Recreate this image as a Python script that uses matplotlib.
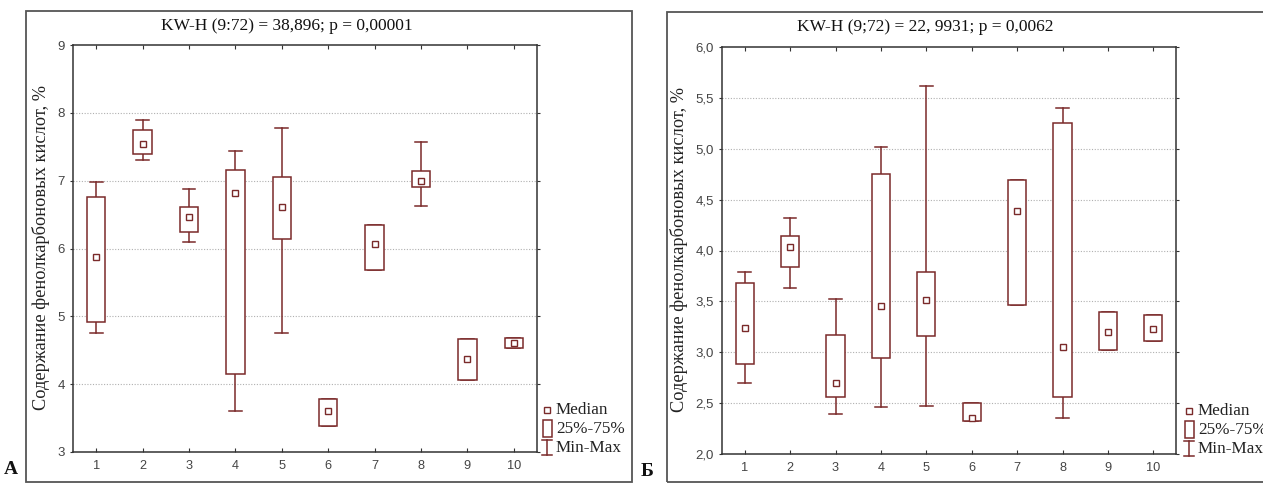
import matplotlib
matplotlib.use("Agg")
import matplotlib.pyplot as plt
from matplotlib.patches import Rectangle
from matplotlib.lines import Line2D

# ---------------- data ----------------
groups = [1, 2, 3, 4, 5, 6, 7, 8, 9, 10]

a_min    = [4.75, 7.31, 6.09, 3.61, 4.76, 3.39, 5.68, 6.62, 4.06, 4.53]
a_q1     = [4.92, 7.40, 6.25, 4.15, 6.14, 3.39, 5.68, 6.91, 4.06, 4.53]
a_median = [5.87, 7.54, 6.47, 6.82, 6.61, 3.60, 6.07, 7.00, 4.37, 4.61]
a_q3     = [6.76, 7.75, 6.61, 7.15, 7.06, 3.78, 6.34, 7.14, 4.66, 4.68]
a_max    = [6.98, 7.89, 6.88, 7.44, 7.78, 3.78, 6.34, 7.57, 4.66, 4.68]

b_min    = [2.70, 3.63, 2.39, 2.46, 2.47, 2.32, 3.46, 2.35, 3.02, 3.11]
b_q1     = [2.88, 3.84, 2.56, 2.94, 3.16, 2.32, 3.46, 2.56, 3.02, 3.11]
b_median = [3.24, 4.03, 2.70, 3.45, 3.51, 2.35, 4.39, 3.05, 3.20, 3.23]
b_q3     = [3.68, 4.14, 3.17, 4.75, 3.79, 2.50, 4.69, 5.25, 3.40, 3.37]
b_max    = [3.79, 4.32, 3.52, 5.02, 5.62, 2.50, 4.69, 5.40, 3.40, 3.37]

a_title = "KW-H (9:72) = 38,896; p = 0,00001"
b_title = "KW-H (9;72) = 22, 9931; p = 0,0062"
ylabel = "Содержание фенолкарбоновых кислот, %"
a_yticks = [3, 4, 5, 6, 7, 8, 9]
a_yticklabels = ["3", "4", "5", "6", "7", "8", "9"]
b_yticks = [2.0, 2.5, 3.0, 3.5, 4.0, 4.5, 5.0, 5.5, 6.0]
b_yticklabels = ["2,0", "2,5", "3,0", "3,5", "4,0", "4,5", "5,0", "5,5", "6,0"]
legend_labels = ["Median", "25%-75%", "Min-Max"]

# ---------------- style ----------------
W, H = 1263, 483
COL = "#7a2a2a"
SERIF = "Liberation Serif"
SANS = "Liberation Sans"
TICKCOL = "#444444"

fig = plt.figure(figsize=(W / 100, H / 100), dpi=100)
fig.patch.set_facecolor("white")


def px(x, y):
    return x / W, 1 - y / H


def axrect(l, t, r, b):
    return [l / W, 1 - b / H, (r - l) / W, (b - t) / H]


def draw_panel(ax, mn, q1, md, q3, mx, yticks, yticklabels, ylim):
    bw = 0.40
    cw = 0.28
    for i, g in enumerate(groups):
        ax.plot([g, g], [q3[i], mx[i]], color=COL, lw=1.1, zorder=2)
        ax.plot([g, g], [mn[i], q1[i]], color=COL, lw=1.1, zorder=2)
        ax.plot([g - cw / 2, g + cw / 2], [mx[i], mx[i]], color=COL, lw=1.1, zorder=2)
        ax.plot([g - cw / 2, g + cw / 2], [mn[i], mn[i]], color=COL, lw=1.1, zorder=2)
        ax.add_patch(Rectangle((g - bw / 2, q1[i]), bw, q3[i] - q1[i],
                               facecolor="white", edgecolor=COL, lw=1.1, zorder=3))
        ax.plot([g], [md[i]], marker="s", ms=4.2, mfc="white", mec=COL, mew=1.0,
                ls="none", zorder=4)
    ax.set_xlim(0.5, 10.5)
    ax.set_ylim(*ylim)
    ax.set_xticks(groups)
    ax.set_xticklabels([str(g) for g in groups], fontsize=9.2, family=SANS, color=TICKCOL)
    ax.set_yticks(yticks)
    ax.set_yticklabels(yticklabels, fontsize=9.5, family=SANS, color=TICKCOL)
    ax.tick_params(axis="x", direction="in", length=3, top=True, bottom=True, pad=6,
                   color="#333333")
    ax.tick_params(axis="y", direction="out", length=2, left=True, right=True, pad=4,
                   color="#333333")
    for yv in yticks[1:-1]:
        ax.axhline(yv, color="#b0b0b0", lw=0.8, ls=(0, (1, 1.5)), zorder=1)
    for s in ax.spines.values():
        s.set_color("#333333")
        s.set_linewidth(1.1)


def draw_legend(xm, y0):
    fig.add_artist(Line2D([xm / W], [1 - y0 / H], marker="s", ms=4.2, mfc="white",
                          mec=COL, mew=1.0, ls="none"))
    fig.text(*px(xm + 9, y0), legend_labels[0], family=SERIF, fontsize=12.3,
             va="center", ha="left", color="#222222")
    x0 = xm - 4.5
    fig.add_artist(Rectangle(px(x0, y0 + 27), 9 / W, 17 / H, transform=fig.transFigure,
                             facecolor="white", edgecolor=COL, lw=1.1))
    fig.text(*px(xm + 9, y0 + 19), legend_labels[1], family=SERIF, fontsize=12.3,
             va="center", ha="left", color="#222222")
    fig.add_artist(Line2D([xm / W, xm / W], [1 - (y0 + 30) / H, 1 - (y0 + 45) / H],
                          color=COL, lw=1.1, transform=fig.transFigure))
    for yy in (y0 + 30, y0 + 45):
        fig.add_artist(Line2D([(xm - 5) / W, (xm + 5) / W], [1 - yy / H, 1 - yy / H],
                              color=COL, lw=1.1, transform=fig.transFigure))
    fig.text(*px(xm + 9, y0 + 38), legend_labels[2], family=SERIF, fontsize=12.3,
             va="center", ha="left", color="#222222")


# outer frames
fig.add_artist(Rectangle(px(26, 482), (632 - 26) / W, (482 - 11) / H,
                         transform=fig.transFigure, facecolor="none",
                         edgecolor="#555555", lw=1.3))
fig.add_artist(Rectangle(px(667, 482), (1270 - 667) / W, (482 - 12) / H,
                         transform=fig.transFigure, facecolor="none",
                         edgecolor="#555555", lw=1.3))

# panel A
axA = fig.add_axes(axrect(73, 45, 537, 452))
draw_panel(axA, a_min, a_q1, a_median, a_q3, a_max, a_yticks, a_yticklabels, (3, 9))
fig.text(*px(287, 26), a_title, family=SERIF, fontsize=12.5, ha="center", va="center",
         color="#111111")
fig.text(*px(41, 248), ylabel, family=SERIF, fontsize=13.2, rotation=90,
         ha="center", va="center", color="#222222")
draw_legend(547, 410)
fig.text(*px(11, 470), "А", family=SERIF, fontsize=14, fontweight="bold",
         ha="center", va="center", color="#111111")

# panel B
axB = fig.add_axes(axrect(722, 47, 1176, 454))
draw_panel(axB, b_min, b_q1, b_median, b_q3, b_max, b_yticks, b_yticklabels, (2.0, 6.0))
fig.text(*px(925, 27), b_title, family=SERIF, fontsize=12.5, ha="center", va="center",
         color="#111111")
fig.text(*px(679, 250), ylabel, family=SERIF, fontsize=13.2, rotation=90,
         ha="center", va="center", color="#222222")
draw_legend(1189, 411)
fig.text(*px(647, 472), "Б", family=SERIF, fontsize=14, fontweight="bold",
         ha="center", va="center", color="#111111")

fig.savefig("out.png", dpi=100, facecolor="white")
